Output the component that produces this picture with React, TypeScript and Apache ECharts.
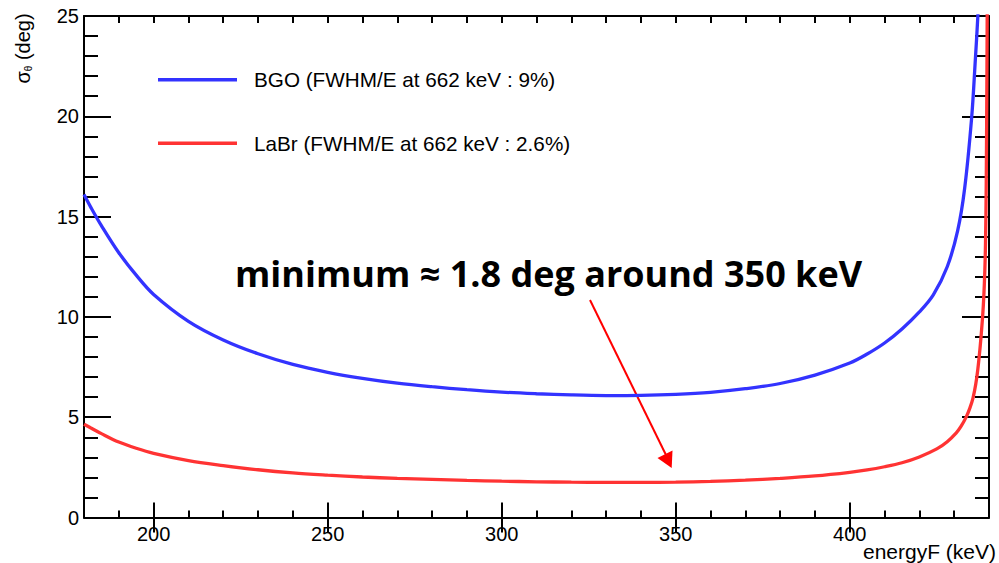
import React, { useEffect, useRef } from 'react';
import * as echarts from 'echarts';

// Angular resolution vs. first-interaction energy, two scintillators
const bgoEnergy = [180, 182, 185, 190, 195, 200, 210, 220, 230, 240, 250, 260, 270, 280, 290, 300, 310, 320, 330, 340, 350, 360, 370, 380, 390, 400, 405, 410, 415, 420, 424, 428, 431, 433, 435, 436, 436.8, 437.2];
const bgoSigma = [16.1, 15.45, 14.55, 13.2, 12.08, 11.12, 9.78, 8.85, 8.16, 7.63, 7.24, 6.94, 6.7, 6.52, 6.37, 6.25, 6.17, 6.11, 6.08, 6.09, 6.14, 6.24, 6.42, 6.68, 7.1, 7.7, 8.15, 8.7, 9.4, 10.25, 11.1, 12.5, 14.3, 16.4, 19.9, 22.6, 25, 26.5];

const labrEnergy = [180, 182, 185, 190, 195, 200, 210, 220, 230, 240, 250, 260, 270, 280, 290, 300, 310, 320, 330, 340, 350, 360, 370, 380, 390, 400, 405, 410, 415, 420, 425, 428, 430.6, 432, 433.5, 434.5, 435.4, 436.2, 436.8, 437.4, 437.8, 438.2, 438.5, 438.8, 439, 439.2, 439.4, 439.5];
const labrSigma = [4.65, 4.46, 4.18, 3.76, 3.45, 3.2, 2.84, 2.59, 2.38, 2.22, 2.11, 2.02, 1.95, 1.9, 1.85, 1.81, 1.78, 1.76, 1.75, 1.75, 1.76, 1.8, 1.86, 1.95, 2.07, 2.25, 2.37, 2.53, 2.73, 3.02, 3.42, 3.78, 4.22, 4.55, 5.03, 5.45, 5.95, 6.65, 7.4, 8.4, 9.2, 10.1, 11.0, 12.3, 13.7, 16.5, 22, 26];

const xMajorTicks = [200, 250, 300, 350, 400];
const seriesNames = ['BGO (FWHM/E at 662 keV : 9%)', 'LaBr (FWHM/E at 662 keV : 2.6%)'];
const seriesColors = ['#3333ff', '#ff3333'];
const xTitle = 'energyF (keV)';
const note = 'minimum ≈ 1.8 deg around 350 keV';

const FONT = '"Liberation Sans", Arial, Helvetica, sans-serif';
const tickStyle = { color: '#000', width: 2 };
const frameLine = { show: true, onZero: false, lineStyle: { color: '#000', width: 2 } };

function minorX(position: 'top' | 'bottom') {
  return {
    type: 'value', position, min: 180, max: 440, interval: 10,
    axisLine: frameLine,
    axisTick: { show: true, inside: true, length: 7, lineStyle: tickStyle },
    axisLabel: { show: false }, splitLine: { show: false },
  };
}
function majorX(position: 'top' | 'bottom', labels: boolean) {
  return {
    type: 'value', position, min: 180, max: 440,
    axisLine: { show: false },
    axisTick: { show: true, inside: true, length: 15, customValues: xMajorTicks, lineStyle: tickStyle },
    axisLabel: { show: labels, customValues: xMajorTicks, fontSize: 20, color: '#000', fontFamily: FONT, margin: 6 },
    splitLine: { show: false },
  };
}
function yAxisPair(position: 'left' | 'right', labels: boolean) {
  return [
    {
      type: 'value', position, min: 0, max: 25, interval: 1,
      axisLine: frameLine,
      axisTick: { show: true, inside: true, length: 14, lineStyle: tickStyle },
      axisLabel: { show: false }, splitLine: { show: false },
    },
    {
      type: 'value', position, min: 0, max: 25, interval: 5,
      axisLine: { show: false },
      axisTick: { show: true, inside: true, length: 27, lineStyle: tickStyle },
      axisLabel: { show: labels, fontSize: 20, color: '#000', fontFamily: FONT, margin: 5 },
      splitLine: { show: false },
    },
  ];
}

export default function App() {
  const ref = useRef<HTMLDivElement>(null);

  useEffect(() => {
    const chart = echarts.init(ref.current!, null, { renderer: 'svg' });
    const curves = [
      bgoEnergy.map((e, i) => [e, bgoSigma[i]]),
      labrEnergy.map((e, i) => [e, labrSigma[i]]),
    ];
    chart.setOption({
      animation: false,
      backgroundColor: '#fff',
      grid: { left: 84, right: 10, top: 16, bottom: 45.5, containLabel: false },
      xAxis: [minorX('bottom'), majorX('bottom', true), minorX('top'), majorX('top', false)],
      yAxis: [...yAxisPair('left', true), ...yAxisPair('right', false)],
      legend: {
        orient: 'vertical', left: 158, top: 69.3, padding: 0,
        icon: 'rect',
        itemWidth: 79, itemHeight: 3.4, itemGap: 42.4,
        selectedMode: false,
        textStyle: { fontSize: 20.7, fontFamily: FONT, color: '#000', padding: [0, 0, 0, 12], lineHeight: 20 },
        data: seriesNames,
      },
      series: curves.map((data, i) => ({
        type: 'line',
        name: seriesNames[i],
        data,
        symbol: 'none',
        showSymbol: false,
        smooth: 0.35,
        clip: true,
        color: seriesColors[i],
        lineStyle: { color: seriesColors[i], width: 3.3 },
      })),
      graphic: [
        {
          type: 'text', x: 23, y: 48.5, rotation: Math.PI / 2,
          style: {
            text: '{a|σ}{b|θ}{a| (deg)}',
            rich: {
              a: { fontSize: 20, fontFamily: FONT, fill: '#000' },
              b: { fontSize: 10, fontFamily: FONT, fill: '#000', verticalAlign: 'bottom', lineHeight: 14 },
            },
            textAlign: 'center', textVerticalAlign: 'middle',
          },
        },
        {
          type: 'text', x: 863, y: 551,
          style: { text: xTitle, fontSize: 21, fontFamily: FONT, fill: '#000', textAlign: 'left', textVerticalAlign: 'middle' },
        },
        {
          type: 'text', x: 235, y: 273.5,
          style: { text: note, fontSize: 36, fontWeight: 'bold', fontFamily: '"Open Sans", Lato, sans-serif', fill: '#000', textAlign: 'left', textVerticalAlign: 'middle' },
        },
        {
          type: 'line',
          shape: { x1: 590, y1: 300, x2: 666, y2: 455 },
          style: { stroke: '#ff0000', lineWidth: 2 },
        },
        {
          type: 'polygon',
          shape: { points: [[657.5, 458], [672.5, 450.5], [671.7, 468]] },
          style: { fill: '#ff0000' },
        },
      ],
    });
    return () => chart.dispose();
  }, []);

  return (
    <div
      ref={ref}
      style={{ position: 'fixed', left: 0, top: 0, width: 999, height: 563, background: '#fff' }}
    />
  );
}
